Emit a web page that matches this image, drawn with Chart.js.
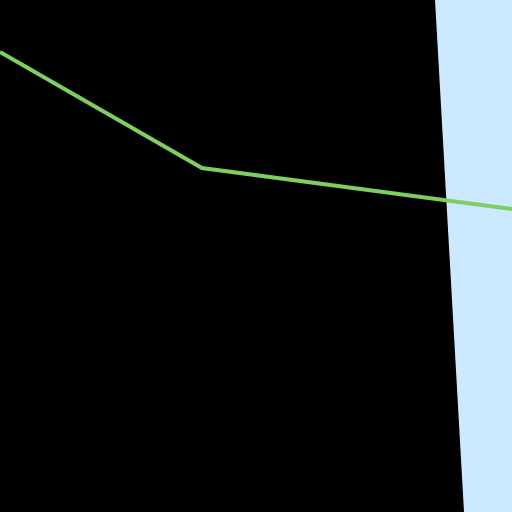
<!DOCTYPE html>
<html>
<head>
<meta charset="utf-8">
<script src="https://cdn.jsdelivr.net/npm/chart.js@4"></script>
<style>
  html, body { margin: 0; padding: 0; background: #cde9ff; }
  canvas { display: block; background: #cde9ff; }
</style>
</head>
<body>
<canvas id="myChart" width="512" height="512"></canvas>
<script>
// green series
const lineX = [0, 202, 512];
const lineY = [460, 344, 303];

// dark band edge (area filled down to the bottom)
const bandX = [0, 435, 464];
const bandY = [512, 512, 0];

const toPoints = (xs, ys) => xs.map((x, i) => ({ x: x, y: ys[i] }));

const ctx = document.getElementById('myChart').getContext('2d');
const myChart = new Chart(ctx, {
    type: 'line',
    data: {
        datasets: [
            {
                label: 'series',
                data: toPoints(lineX, lineY),
                borderColor: '#7dcf60',
                borderWidth: 4,
                pointRadius: 0,
                fill: false,
                tension: 0,
                order: 0
            },
            {
                label: 'band',
                data: toPoints(bandX, bandY),
                borderColor: '#000000',
                backgroundColor: '#000000',
                borderWidth: 0,
                pointRadius: 0,
                fill: 'start',
                tension: 0,
                order: 1
            }
        ]
    },
    options: {
        responsive: false,
        animation: false,
        layout: { padding: 0 },
        plugins: {
            legend: { display: false },
            tooltip: { enabled: false }
        },
        scales: {
            x: { type: 'linear', min: 0, max: 512, display: false },
            y: { type: 'linear', min: 0, max: 512, display: false }
        }
    }
});
</script>
</body>
</html>
